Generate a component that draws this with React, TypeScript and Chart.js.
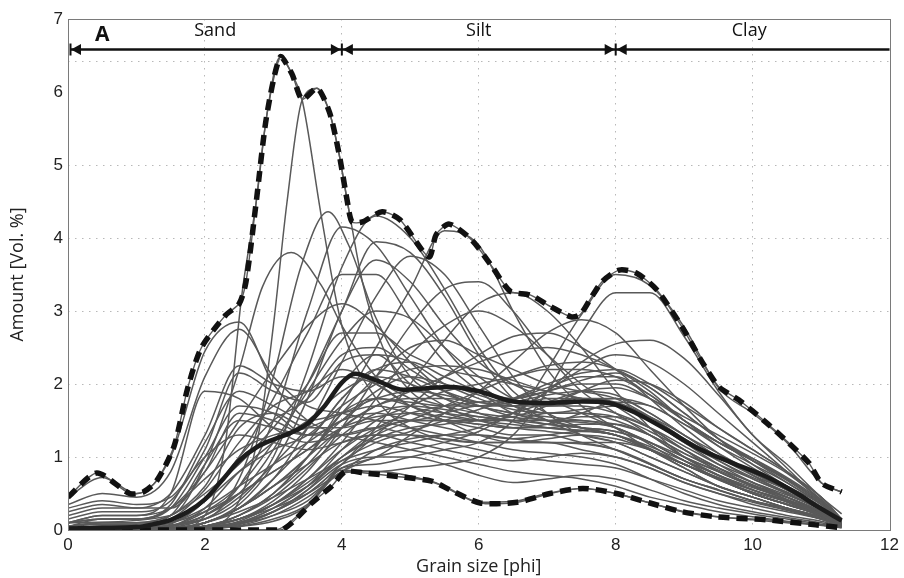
import React, { useEffect, useRef } from 'react';
import { Chart, registerables } from 'chart.js';
Chart.register(...registerables);

// Grain size grid (phi) for the individual sample curves
const X = [0, 0.5, 1, 1.5, 2, 2.5, 3, 3.5, 4, 4.5, 5, 5.5, 6, 6.5, 7, 7.5, 8, 8.5, 9, 9.5, 10, 10.5, 11, 11.3];

// Sand-peaked samples
const S1 = [0.45, 0.72, 0.5, 1.0, 2.45, 2.85, 2.0, 1.5, 1.3, 1.2, 1.1, 1.0, 0.9, 0.8, 0.75, 0.7, 0.6, 0.45, 0.35, 0.25, 0.18, 0.12, 0.07, 0.04];
const S2 = [0.35, 0.5, 0.45, 0.8, 2.1, 2.75, 2.1, 1.7, 1.6, 1.5, 1.4, 1.3, 1.2, 1.1, 1.05, 1.0, 0.9, 0.7, 0.5, 0.35, 0.25, 0.17, 0.1, 0.05];
const S3 = [0.2, 0.3, 0.3, 0.5, 1.3, 2.25, 2.0, 1.9, 2.1, 2.0, 1.7, 1.5, 1.4, 1.3, 1.3, 1.2, 1.1, 0.9, 0.7, 0.55, 0.4, 0.3, 0.18, 0.08];
const S4 = [0.15, 0.25, 0.25, 0.4, 1.1, 2.15, 1.9, 1.75, 2.3, 2.4, 2.0, 1.7, 1.5, 1.4, 1.35, 1.3, 1.2, 1.0, 0.8, 0.6, 0.45, 0.3, 0.18, 0.08];
const S5 = [0.1, 0.2, 0.2, 0.5, 1.9, 1.8, 1.4, 1.2, 1.3, 1.4, 1.3, 1.2, 1.1, 1.0, 0.95, 0.9, 0.85, 0.7, 0.55, 0.4, 0.3, 0.2, 0.12, 0.05];
const S6 = [0.05, 0.15, 0.15, 0.35, 1.2, 1.9, 1.7, 1.5, 1.6, 1.7, 1.6, 1.5, 1.5, 1.5, 1.6, 1.6, 1.5, 1.3, 1.0, 0.8, 0.6, 0.45, 0.25, 0.1];
const S7 = [0.25, 0.35, 0.3, 0.3, 0.8, 1.6, 1.5, 1.3, 1.5, 1.8, 1.7, 1.5, 1.3, 1.2, 1.2, 1.1, 1.0, 0.85, 0.65, 0.5, 0.35, 0.25, 0.15, 0.06];
const S8 = [0.05, 0.1, 0.1, 0.2, 0.6, 1.4, 1.6, 1.4, 1.4, 1.5, 1.5, 1.6, 1.7, 1.7, 1.8, 1.8, 1.8, 1.6, 1.3, 1.05, 0.8, 0.6, 0.35, 0.12];

// Medium/coarse silt-peaked samples
const M1 = [0, 0, 0.02, 0.05, 0.15, 0.4, 1.0, 2.2, 3.6, 4.3, 4.0, 3.3, 2.5, 1.9, 1.6, 1.4, 1.3, 1.1, 0.85, 0.6, 0.45, 0.3, 0.15, 0.06];
const M2 = [0, 0, 0, 0.05, 0.2, 0.6, 1.5, 3.0, 4.15, 3.9, 3.2, 2.5, 2.0, 1.7, 1.5, 1.4, 1.3, 1.1, 0.9, 0.7, 0.5, 0.35, 0.2, 0.08];
const M3 = [0, 0, 0, 0, 0.05, 0.2, 0.5, 1.0, 1.7, 2.5, 3.3, 4.1, 3.9, 3.0, 2.2, 1.7, 1.4, 1.1, 0.85, 0.6, 0.45, 0.3, 0.18, 0.07];
const M4 = [0, 0, 0, 0.05, 0.2, 0.5, 1.1, 2.0, 3.0, 3.95, 3.8, 3.2, 2.4, 1.8, 1.5, 1.3, 1.2, 1.0, 0.8, 0.6, 0.45, 0.3, 0.18, 0.07];
const M5 = [0, 0, 0, 0, 0.1, 0.3, 0.7, 1.4, 2.3, 3.2, 3.75, 3.5, 2.8, 2.1, 1.6, 1.3, 1.1, 0.9, 0.7, 0.55, 0.4, 0.28, 0.16, 0.06];
const M6 = [0, 0, 0.05, 0.1, 0.4, 1.0, 1.8, 2.7, 3.5, 3.5, 2.9, 2.3, 1.9, 1.6, 1.5, 1.4, 1.3, 1.1, 0.9, 0.7, 0.5, 0.35, 0.2, 0.08];
const M7 = [0, 0, 0, 0, 0.05, 0.15, 0.4, 0.8, 1.4, 2.1, 2.8, 3.3, 3.4, 3.0, 2.4, 1.9, 1.6, 1.3, 1.0, 0.75, 0.55, 0.4, 0.22, 0.08];
const M8 = [0.1, 0.15, 0.15, 0.3, 0.8, 1.5, 2.2, 2.8, 3.1, 2.8, 2.3, 1.9, 1.7, 1.6, 1.5, 1.5, 1.4, 1.2, 0.95, 0.7, 0.5, 0.35, 0.2, 0.08];
const M9 = [0, 0, 0, 0.05, 0.25, 0.6, 1.2, 1.9, 2.6, 3.0, 2.9, 2.5, 2.1, 1.8, 1.7, 1.7, 1.6, 1.4, 1.1, 0.85, 0.6, 0.45, 0.25, 0.1];
const M10 = [0.05, 0.1, 0.1, 0.2, 0.5, 0.9, 1.4, 2.0, 2.7, 2.7, 2.4, 2.2, 2.1, 2.0, 1.9, 1.8, 1.7, 1.5, 1.2, 0.9, 0.65, 0.45, 0.25, 0.1];
const M11 = [0, 0, 0, 0, 0.1, 0.3, 0.6, 1.0, 1.6, 2.1, 2.5, 2.6, 2.4, 2.2, 2.0, 1.9, 1.8, 1.55, 1.25, 0.95, 0.7, 0.5, 0.28, 0.1];
const M12 = [0, 0, 0, 0, 0.1, 0.35, 0.9, 1.8, 3.0, 3.7, 3.4, 2.8, 2.3, 2.0, 1.8, 1.6, 1.4, 1.2, 0.95, 0.7, 0.5, 0.35, 0.2, 0.08];

// Fine silt-peaked samples
const F1 = [0, 0, 0, 0, 0.05, 0.1, 0.25, 0.5, 0.9, 1.4, 2.0, 2.6, 3.1, 3.25, 3.0, 2.5, 1.9, 1.4, 1.0, 0.75, 0.55, 0.4, 0.22, 0.08];
const F2 = [0, 0, 0, 0, 0.05, 0.15, 0.35, 0.7, 1.2, 1.8, 2.4, 2.8, 3.0, 2.8, 2.4, 2.0, 1.7, 1.4, 1.1, 0.8, 0.6, 0.42, 0.24, 0.09];
const F3 = [0, 0, 0, 0, 0.02, 0.1, 0.25, 0.5, 0.9, 1.3, 1.7, 2.1, 2.4, 2.65, 2.7, 2.5, 2.2, 1.8, 1.4, 1.05, 0.75, 0.5, 0.28, 0.1];
const F4 = [0, 0, 0, 0.02, 0.1, 0.3, 0.6, 1.0, 1.4, 1.7, 1.9, 2.1, 2.3, 2.45, 2.5, 2.4, 2.2, 1.9, 1.5, 1.15, 0.85, 0.6, 0.32, 0.11];
const F5 = [0, 0, 0, 0, 0.05, 0.15, 0.35, 0.65, 1.0, 1.3, 1.5, 1.7, 1.9, 2.1, 2.25, 2.3, 2.2, 1.95, 1.6, 1.25, 0.95, 0.65, 0.35, 0.12];
const F6 = [0, 0, 0, 0, 0.02, 0.08, 0.2, 0.4, 0.85, 1.0, 1.3, 1.6, 1.9, 2.3, 2.7, 2.88, 2.7, 2.2, 1.7, 1.25, 0.9, 0.6, 0.32, 0.1];

// Clay-peaked samples
const C1 = [0, 0, 0, 0, 0.02, 0.05, 0.15, 0.35, 0.85, 0.9, 1.0, 1.1, 1.2, 1.5, 2.2, 2.95, 3.5, 3.35, 2.78, 1.95, 1.6, 1.2, 0.65, 0.52];
const C2 = [0, 0, 0, 0, 0.02, 0.05, 0.12, 0.33, 0.82, 0.8, 0.85, 0.9, 1.0, 1.3, 1.9, 2.7, 3.25, 3.25, 2.65, 1.9, 1.3, 0.9, 0.45, 0.22];
const C3 = [0, 0, 0, 0.02, 0.1, 0.25, 0.45, 0.7, 0.95, 1.1, 1.2, 1.3, 1.4, 1.6, 1.9, 2.3, 2.55, 2.6, 2.35, 1.85, 1.3, 0.85, 0.4, 0.15];
const C4 = [0, 0, 0, 0, 0.05, 0.15, 0.3, 0.5, 0.8, 1.0, 1.1, 1.2, 1.35, 1.6, 1.9, 2.2, 2.4, 2.3, 2.0, 1.6, 1.2, 0.8, 0.4, 0.15];
const C5 = [0, 0, 0, 0, 0.05, 0.15, 0.35, 0.6, 0.95, 1.2, 1.35, 1.5, 1.65, 1.8, 2.0, 2.15, 2.2, 2.0, 1.7, 1.4, 1.1, 0.8, 0.45, 0.15];

// Low, broad samples
const L1 = [0, 0, 0, 0, 0, 0, 0, 0.32, 0.78, 0.8, 0.74, 0.6, 0.38, 0.39, 0.5, 0.57, 0.5, 0.37, 0.25, 0.18, 0.14, 0.1, 0.07, 0.03];
const L2 = [0, 0, 0, 0, 0.02, 0.08, 0.25, 0.55, 0.9, 1.0, 1.0, 0.9, 0.75, 0.65, 0.7, 0.75, 0.7, 0.55, 0.4, 0.3, 0.22, 0.15, 0.08, 0.04];
const L3 = [0, 0, 0, 0.02, 0.1, 0.3, 0.6, 0.9, 1.2, 1.3, 1.2, 1.1, 1.0, 0.95, 1.0, 1.05, 1.0, 0.85, 0.65, 0.5, 0.38, 0.27, 0.15, 0.06];
const L4 = [0.02, 0.05, 0.05, 0.1, 0.3, 0.6, 0.9, 1.2, 1.5, 1.6, 1.5, 1.4, 1.3, 1.25, 1.3, 1.35, 1.3, 1.1, 0.9, 0.7, 0.55, 0.4, 0.22, 0.08];
const L5 = [0, 0, 0, 0, 0.05, 0.2, 0.45, 0.85, 1.3, 1.6, 1.7, 1.65, 1.55, 1.5, 1.5, 1.55, 1.55, 1.4, 1.15, 0.9, 0.7, 0.5, 0.28, 0.1];
const L6 = [0, 0, 0, 0, 0.02, 0.1, 0.3, 0.6, 1.0, 1.35, 1.5, 1.5, 1.45, 1.4, 1.45, 1.6, 1.75, 1.7, 1.45, 1.15, 0.9, 0.65, 0.35, 0.12];
const L7 = [0.1, 0.2, 0.2, 0.3, 0.7, 1.1, 1.3, 1.4, 1.6, 1.8, 1.9, 1.85, 1.7, 1.55, 1.45, 1.4, 1.35, 1.2, 1.0, 0.8, 0.6, 0.45, 0.25, 0.09];
const L8 = [0, 0, 0, 0.05, 0.2, 0.5, 0.8, 1.1, 1.5, 1.9, 2.1, 2.0, 1.85, 1.7, 1.6, 1.65, 1.7, 1.55, 1.3, 1.0, 0.75, 0.55, 0.3, 0.1];
const L9 = [0, 0, 0, 0, 0.03, 0.12, 0.35, 0.7, 1.1, 1.4, 1.6, 1.7, 1.75, 1.8, 1.9, 2.0, 2.0, 1.8, 1.5, 1.2, 0.95, 0.7, 0.38, 0.13];
const L10 = [0.05, 0.1, 0.1, 0.15, 0.4, 0.8, 1.1, 1.3, 1.7, 2.0, 2.2, 2.25, 2.2, 2.05, 1.9, 1.8, 1.7, 1.5, 1.2, 0.95, 0.72, 0.52, 0.3, 0.1];
const L11 = [0, 0, 0, 0, 0.02, 0.06, 0.2, 0.45, 0.8, 1.1, 1.25, 1.3, 1.3, 1.25, 1.2, 1.2, 1.2, 1.1, 0.9, 0.72, 0.55, 0.4, 0.22, 0.08];
const L12 = [0.02, 0.05, 0.05, 0.1, 0.25, 0.5, 0.8, 1.1, 1.4, 1.55, 1.6, 1.55, 1.5, 1.55, 1.7, 1.9, 2.05, 2.0, 1.75, 1.4, 1.1, 0.8, 0.45, 0.15];

// Further samples in the dense central band
const E1 = [0, 0, 0, 0.05, 0.3, 0.8, 1.2, 1.5, 1.9, 2.1, 2.0, 1.8, 1.7, 1.75, 1.85, 1.9, 1.85, 1.6, 1.3, 1.0, 0.78, 0.55, 0.3, 0.1];
const E2 = [0.05, 0.08, 0.08, 0.2, 0.9, 1.5, 1.4, 1.3, 1.8, 2.2, 2.1, 1.9, 1.75, 1.7, 1.75, 1.8, 1.75, 1.55, 1.25, 1.0, 0.78, 0.55, 0.3, 0.1];
const E3 = [0, 0, 0, 0.03, 0.15, 0.45, 0.9, 1.4, 2.0, 2.4, 2.3, 2.0, 1.8, 1.65, 1.6, 1.6, 1.55, 1.35, 1.1, 0.85, 0.65, 0.45, 0.25, 0.09];
const E4 = [0, 0, 0, 0, 0.05, 0.2, 0.5, 1.0, 1.6, 1.8, 1.75, 1.7, 1.7, 1.8, 1.95, 2.1, 2.1, 1.85, 1.5, 1.2, 0.95, 0.7, 0.38, 0.13];
const E5 = [0.1, 0.15, 0.15, 0.3, 1.0, 1.7, 1.6, 1.3, 1.3, 1.4, 1.5, 1.5, 1.45, 1.4, 1.4, 1.45, 1.45, 1.3, 1.05, 0.85, 0.65, 0.48, 0.27, 0.09];
const E6 = [0, 0, 0, 0.02, 0.1, 0.3, 0.7, 1.2, 1.8, 2.2, 2.3, 2.1, 1.9, 1.8, 1.9, 2.05, 2.15, 1.95, 1.6, 1.25, 0.98, 0.7, 0.38, 0.13];
const E7 = [0, 0, 0, 0, 0.03, 0.1, 0.3, 0.6, 1.1, 1.5, 1.7, 1.9, 2.0, 2.1, 2.2, 2.2, 2.1, 1.85, 1.5, 1.2, 0.95, 0.68, 0.36, 0.12];
const E8 = [0.02, 0.05, 0.06, 0.15, 0.55, 1.2, 1.7, 1.9, 2.2, 2.0, 1.7, 1.6, 1.55, 1.5, 1.45, 1.4, 1.35, 1.2, 0.95, 0.75, 0.58, 0.42, 0.24, 0.08];
const E9 = [0, 0, 0, 0, 0.02, 0.08, 0.25, 0.55, 1.0, 1.25, 1.4, 1.45, 1.5, 1.6, 1.75, 1.9, 1.95, 1.8, 1.55, 1.3, 1.05, 0.78, 0.42, 0.14];
const E10 = [0.3, 0.4, 0.35, 0.45, 1.0, 1.3, 1.2, 1.1, 1.2, 1.3, 1.3, 1.25, 1.2, 1.2, 1.25, 1.3, 1.25, 1.1, 0.9, 0.7, 0.52, 0.38, 0.2, 0.07];
const E11 = [0, 0, 0, 0, 0.05, 0.2, 0.5, 0.9, 1.4, 1.7, 1.8, 1.8, 1.75, 1.7, 1.7, 1.75, 1.8, 1.7, 1.45, 1.2, 0.98, 0.72, 0.4, 0.13];
const E12 = [0, 0, 0.02, 0.08, 0.4, 1.0, 1.5, 1.8, 2.4, 2.5, 2.2, 1.9, 1.7, 1.6, 1.55, 1.5, 1.45, 1.3, 1.05, 0.82, 0.62, 0.45, 0.25, 0.09];

const GRID_SAMPLES = [S1, S2, S3, S4, S5, S6, S7, S8, M1, M2, M3, M4, M5, M6, M7, M8, M9, M10, M11, M12,
  F1, F2, F3, F4, F5, F6, C1, C2, C3, C4, C5, L1, L2, L3, L4, L5, L6, L7, L8, L9, L10, L11, L12,
  E1, E2, E3, E4, E5, E6, E7, E8, E9, E10, E11, E12];

// Sharply peaked coarse samples (own grain-size points)
const P1_X = [0, 1.5, 2.0, 2.3, 2.55, 2.75, 2.9, 3.1, 3.27, 3.42, 3.7, 4.0, 4.5, 5, 6, 7, 8, 9, 10, 11, 11.3];
const P1_Y = [0, 0, 0.2, 1.2, 3.3, 4.5, 5.66, 6.48, 6.25, 5.89, 4.3, 2.8, 1.8, 1.4, 1.2, 1.2, 1.1, 0.7, 0.4, 0.15, 0.05];
const P2_X = [0, 2.0, 2.5, 2.8, 3.0, 3.2, 3.42, 3.64, 3.82, 3.96, 4.1, 4.3, 4.6, 5, 5.5, 6, 7, 8, 9, 10, 11, 11.3];
const P2_Y = [0, 0.05, 0.4, 1.4, 2.8, 4.5, 5.89, 6.05, 5.72, 5.15, 4.4, 3.4, 2.5, 1.9, 1.7, 1.6, 1.5, 1.4, 0.9, 0.5, 0.2, 0.06];
const P3_X = [0, 2.0, 2.5, 3.0, 3.4, 3.8, 4.1, 4.5, 5, 5.5, 6, 7, 8, 9, 10, 11, 11.3];
const P3_Y = [0, 0.15, 0.7, 2.1, 3.6, 4.36, 3.9, 2.9, 2.1, 1.8, 1.6, 1.4, 1.3, 0.9, 0.5, 0.2, 0.07];
const P4_X = [0, 1.5, 2.0, 2.5, 2.84, 3.26, 3.7, 4.0, 4.5, 5, 5.5, 6, 7, 8, 9, 10, 11, 11.3];
const P4_Y = [0.1, 0.2, 0.9, 2.2, 3.33, 3.8, 3.35, 2.8, 2.1, 1.8, 1.6, 1.5, 1.4, 1.3, 0.95, 0.55, 0.22, 0.08];

// Mean curve
const MEAN_X = [0, 0.5, 1.0, 1.25, 1.5, 1.75, 2.0, 2.25, 2.5, 2.75, 3.0, 3.25, 3.5, 3.75, 4.0, 4.2, 4.5, 4.9, 5.2, 5.6, 6.0, 6.5, 7.0, 7.5, 7.9, 8.3, 8.75, 9.2, 9.7, 10.2, 10.65, 10.95, 11.3];
const MEAN_Y = [0.02, 0.03, 0.04, 0.08, 0.14, 0.25, 0.42, 0.68, 0.95, 1.13, 1.24, 1.33, 1.46, 1.7, 2.02, 2.14, 2.05, 1.92, 1.94, 1.96, 1.9, 1.76, 1.74, 1.76, 1.74, 1.6, 1.37, 1.12, 0.92, 0.73, 0.5, 0.32, 0.13];

// Upper envelope (maximum)
const MAX_X = [0, 0.42, 0.9, 1.1, 1.3, 1.55, 1.75, 1.95, 2.3, 2.5, 2.6, 2.75, 2.9, 3.1, 3.27, 3.42, 3.64, 3.82, 3.96, 4.08, 4.15, 4.3, 4.59, 4.85, 5.27, 5.38, 5.57, 5.9, 6.2, 6.46, 6.75, 7.05, 7.35, 7.48, 7.62, 7.8, 8.05, 8.3, 8.6, 8.97, 9.27, 9.51, 9.8, 10.2, 10.53, 10.82, 11.01, 11.3];
const MAX_Y = [0.45, 0.78, 0.5, 0.52, 0.68, 1.15, 1.95, 2.5, 2.94, 3.1, 3.4, 4.5, 5.66, 6.48, 6.25, 5.9, 6.05, 5.72, 5.15, 4.5, 4.22, 4.22, 4.36, 4.25, 3.74, 4.05, 4.19, 3.97, 3.6, 3.27, 3.22, 3.06, 2.92, 2.95, 3.15, 3.4, 3.56, 3.52, 3.29, 2.78, 2.29, 1.96, 1.78, 1.47, 1.19, 0.92, 0.64, 0.52];

// Lower envelope (minimum)
const MIN_X = [0, 3.1, 3.27, 3.56, 3.85, 4.05, 4.34, 4.83, 5.31, 5.58, 6.02, 6.56, 7.04, 7.52, 8.01, 8.5, 8.97, 9.47, 10.2, 10.92, 11.3];
const MIN_Y = [0, 0, 0.1, 0.37, 0.6, 0.8, 0.78, 0.73, 0.67, 0.55, 0.37, 0.38, 0.5, 0.57, 0.5, 0.37, 0.25, 0.18, 0.14, 0.07, 0.03];

// Axes
const X_MIN = 0, X_MAX = 12, X_STEP = 2;
const Y_TICKS = [0, 1, 2, 3, 4, 5, 6, 6.42, 7];
const Y_LABELED = [0, 1, 2, 3, 4, 5, 6, 7];
const Y_NO_GRID = [0, 6, 7];
const X_TITLE = 'Grain size [phi]';
const Y_TITLE = 'Amount [Vol. %]';

// Grain-size class annotation
const CLASS_BOUNDS = [0, 4, 8, 12];
const CLASS_NAMES = ['Sand', 'Silt', 'Clay'];
const CLASS_NAME_X = [2.15, 6.0, 9.95];
const CLASS_NAME_Y = 6.84;
const ARROW_Y = 6.59;
const PANEL_LABEL = 'A';
const PANEL_LABEL_X = 0.5;
const PANEL_LABEL_Y = 6.78;

const toPts = (xs: number[], ys: number[]) => ys.map((y, i) => ({ x: xs[i], y }));

const annotationPlugin = {
  id: 'classAnnot',
  afterDraw(chart: any) {
    const { ctx, chartArea, scales } = chart;
    const xs = scales.x, ys = scales.y;
    ctx.save();
    // frame
    ctx.strokeStyle = '#7a7a7a';
    ctx.lineWidth = 1;
    ctx.strokeRect(Math.round(chartArea.left) + 0.5, Math.round(chartArea.top) + 0.5,
      Math.round(chartArea.right - chartArea.left), Math.round(chartArea.bottom - chartArea.top));

    const ay = Math.round(ys.getPixelForValue(ARROW_Y)) + 0.5;
    const x0 = xs.getPixelForValue(CLASS_BOUNDS[0]);
    const xe = xs.getPixelForValue(CLASS_BOUNDS[CLASS_BOUNDS.length - 1]);
    ctx.strokeStyle = '#111';
    ctx.fillStyle = '#111';
    ctx.lineWidth = 2.5;
    ctx.beginPath();
    ctx.moveTo(x0 + 2, ay);
    ctx.lineTo(xe, ay);
    ctx.stroke();

    const tri = (tipX: number, dir: number) => {
      ctx.beginPath();
      ctx.moveTo(tipX, ay);
      ctx.lineTo(tipX - dir * 10, ay - 5.5);
      ctx.lineTo(tipX - dir * 10, ay + 5.5);
      ctx.closePath();
      ctx.fill();
    };
    const bar = (bx: number) => {
      ctx.lineWidth = 2;
      ctx.beginPath();
      ctx.moveTo(bx, ay - 6);
      ctx.lineTo(bx, ay + 6);
      ctx.stroke();
    };
    bar(x0 + 2.5);
    tri(x0 + 3, -1);
    for (let i = 1; i < CLASS_BOUNDS.length - 1; i++) {
      const bx = xs.getPixelForValue(CLASS_BOUNDS[i]);
      tri(bx - 1, 1);
      bar(bx);
      tri(bx + 1, -1);
    }

    ctx.fillStyle = '#111';
    ctx.textAlign = 'center';
    ctx.textBaseline = 'middle';
    ctx.font = '18px "Open Sans", sans-serif';
    CLASS_NAMES.forEach((n, i) => {
      ctx.fillText(n, xs.getPixelForValue(CLASS_NAME_X[i]), ys.getPixelForValue(CLASS_NAME_Y));
    });
    ctx.font = 'bold 21px "Open Sans", sans-serif';
    ctx.fillText(PANEL_LABEL, xs.getPixelForValue(PANEL_LABEL_X), ys.getPixelForValue(PANEL_LABEL_Y));
    ctx.restore();
  },
};

const whiteBg = {
  id: 'whiteBg',
  beforeDraw(chart: any) {
    const { ctx, width, height } = chart;
    ctx.save();
    ctx.fillStyle = '#fff';
    ctx.fillRect(0, 0, width, height);
    ctx.restore();
  },
};

export default function App() {
  const ref = useRef<HTMLCanvasElement | null>(null);
  useEffect(() => {
    if (!ref.current) return;
    const grey = '#595959';
    const datasets: any[] = [];
    datasets.push({ data: toPts(MEAN_X, MEAN_Y), borderColor: '#1c1c1c', borderWidth: 4.5, order: 0 });
    datasets.push({ data: toPts(MAX_X, MAX_Y), borderColor: '#111', borderWidth: 5.5, borderDash: [11, 7], order: 1, cubicInterpolationMode: 'default', tension: 0.25 });
    datasets.push({ data: toPts(MIN_X, MIN_Y), borderColor: '#111', borderWidth: 5.5, borderDash: [11, 7], order: 1, cubicInterpolationMode: 'default', tension: 0.25 });
    datasets.push({ data: toPts(MAX_X, MAX_Y), borderColor: grey, borderWidth: 1.4, order: 2, cubicInterpolationMode: 'default', tension: 0.25 });
    datasets.push({ data: toPts(MIN_X, MIN_Y), borderColor: grey, borderWidth: 1.4, order: 2, cubicInterpolationMode: 'default', tension: 0.25 });
    [[P1_X, P1_Y], [P2_X, P2_Y], [P3_X, P3_Y], [P4_X, P4_Y]].forEach(([xs, ys]) => {
      datasets.push({ data: toPts(xs, ys), borderColor: grey, borderWidth: 1.5, order: 3 });
    });
    GRID_SAMPLES.forEach((ys) => {
      datasets.push({ data: toPts(X, ys), borderColor: grey, borderWidth: 1.5, order: 3 });
    });

    const tickFont = { family: '"Liberation Sans", Arial, sans-serif', size: 17 };
    const titleFont = { family: '"Open Sans", sans-serif', size: 18 };

    const chart = new Chart(ref.current, {
      type: 'line',
      data: { datasets },
      plugins: [whiteBg, annotationPlugin],
      options: {
        animation: false,
        responsive: false,
        events: [],
        layout: { padding: { top: 19, right: 11, left: 0, bottom: 0 } },
        elements: {
          point: { radius: 0 },
          line: { cubicInterpolationMode: 'monotone', fill: false },
        },
        plugins: { legend: { display: false }, tooltip: { enabled: false } },
        scales: {
          x: {
            type: 'linear',
            min: X_MIN,
            max: X_MAX,
            afterFit: (s: any) => { s.height = 48; },
            ticks: { stepSize: X_STEP, color: '#222', font: tickFont, padding: 5, maxRotation: 0 },
            grid: {
              drawTicks: false,
              color: (c: any) => (c.tick && (c.tick.value === X_MIN || c.tick.value === X_MAX) ? 'rgba(0,0,0,0)' : '#b8b8b8'),
              lineWidth: 1,
            },
            border: { display: false, dash: [1.5, 5.5] },
            title: { display: true, text: X_TITLE, color: '#222', font: titleFont, padding: { top: 0, bottom: 0 } },
          },
          y: {
            type: 'linear',
            min: 0,
            max: 7,
            afterFit: (s: any) => { s.width = 68; },
            afterBuildTicks: (s: any) => { s.ticks = Y_TICKS.map((v) => ({ value: v })); },
            ticks: {
              autoSkip: false,
              color: '#222',
              font: tickFont,
              padding: 5,
              callback: (v: any) => (Y_LABELED.includes(Number(v)) ? String(v) : ''),
            },
            grid: {
              drawTicks: false,
              color: (c: any) => (c.tick && Y_NO_GRID.includes(c.tick.value) ? 'rgba(0,0,0,0)' : '#b8b8b8'),
              lineWidth: 1,
            },
            border: { display: false, dash: [1.5, 5.5] },
            title: { display: true, text: Y_TITLE, color: '#222', font: titleFont, padding: { top: 7, bottom: 0 } },
          },
        },
      } as any,
    });
    return () => chart.destroy();
  }, []);

  return (
    <div style={{ position: 'absolute', left: 0, top: 0, width: 904, height: 578, background: '#fff' }}>
      <canvas ref={ref} width={904} height={578} style={{ width: 904, height: 578, display: 'block' }} />
    </div>
  );
}
